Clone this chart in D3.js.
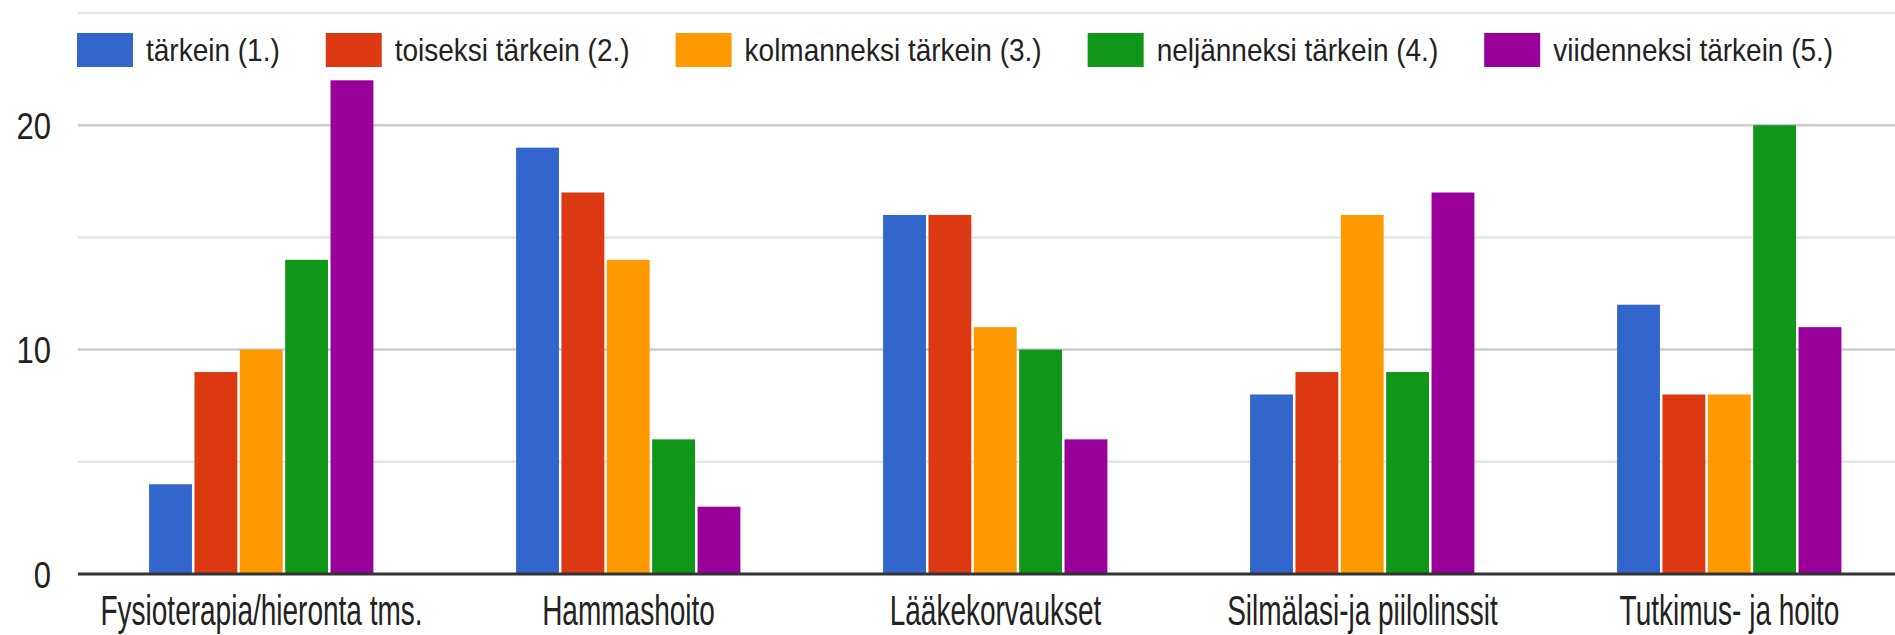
<!DOCTYPE html>
<html>
<head>
<meta charset="utf-8">
<script src="https://cdn.jsdelivr.net/npm/d3@7"></script>
<style>
  body { margin: 0; background: #fff; }
  text { font-family: "Liberation Sans", Arial, sans-serif; fill: #222; }
</style>
</head>
<body>
<script>
const categories = ["Fysioterapia/hieronta tms.", "Hammashoito", "Lääkekorvaukset", "Silmälasi-ja piilolinssit", "Tutkimus- ja hoito"];
const seriesNames = ["tärkein (1.)", "toiseksi tärkein (2.)", "kolmanneksi tärkein (3.)", "neljänneksi tärkein (4.)", "viidenneksi tärkein (5.)"];
const first = [4, 19, 16, 8, 12];
const second = [9, 17, 16, 9, 8];
const third = [10, 14, 11, 16, 8];
const fourth = [14, 6, 10, 9, 20];
const fifth = [22, 3, 6, 17, 11];
const yTicks = [0, 10, 20];
const gridTicks = [5, 10, 15, 20, 25];

const colors = ["#3366cc", "#dc3912", "#ff9900", "#109618", "#990099"];
const seriesValues = [first, second, third, fourth, fifth];

const W = 1895, H = 635;
const margin = { top: 13, bottom: 61, left: 78 };
// the plot runs past the right edge of the picture
const plotRight = 1913;

const svg = d3.select("body")
    .append("svg")
    .attr("width", W)
    .attr("height", H);

const x0 = d3.scaleBand().domain(categories).range([margin.left, plotRight]);
const groupW = x0.step() * 0.618;
const x1 = d3.scaleBand()
    .domain(d3.range(seriesNames.length))
    .range([(x0.step() - groupW) / 2, (x0.step() + groupW) / 2]);
const y = d3.scaleLinear().domain([0, 25]).range([H - margin.bottom, margin.top]);

// gridlines
svg.append("g")
    .selectAll("line")
    .data(gridTicks)
    .join("line")
    .attr("x1", margin.left)
    .attr("x2", W)
    .attr("y1", d => y(d))
    .attr("y2", d => y(d))
    .attr("stroke", d => d % 10 === 0 ? "#cccccc" : "#e6e6e6")
    .attr("stroke-width", 2.5);

// bars
const rows = [];
categories.forEach((c, ci) => {
    seriesValues.forEach((vals, si) => rows.push({ cat: c, s: si, v: vals[ci] }));
});

svg.append("g")
    .selectAll("rect")
    .data(rows)
    .join("rect")
    .attr("x", d => x0(d.cat) + x1(d.s) + 1)
    .attr("y", d => y(d.v))
    .attr("width", x1.bandwidth() - 2.5)
    .attr("height", d => y(0) - y(d.v))
    .attr("fill", d => colors[d.s]);

// baseline
svg.append("line")
    .attr("x1", margin.left)
    .attr("x2", W)
    .attr("y1", y(0))
    .attr("y2", y(0))
    .attr("stroke", "#333")
    .attr("stroke-width", 3);

// y axis
const yaxis = d3.axisLeft(y).tickValues(yTicks).tickSize(0).tickPadding(0);
const gy = svg.append("g")
    .attr("transform", `translate(${margin.left - 27},0)`)
    .call(yaxis);
gy.select(".domain").remove();
gy.selectAll(".tick text")
    .attr("x", null)
    .attr("dy", null)
    .attr("transform", "translate(0,13) scale(1,1.2)")
    .style("font-size", "31px")
    .style("font-family", "'Liberation Sans', Arial, sans-serif")
    .attr("fill", "#222");

// category labels
svg.append("g")
    .selectAll("text")
    .data(categories)
    .join("text")
    .attr("transform", d => `translate(${x0(d) + x0.bandwidth() / 2},${y(0) + 51}) scale(1,1.52)`)
    .attr("text-anchor", "middle")
    .style("font-size", "28px")
    .text(d => d);

// legend
const legend = svg.append("g").attr("transform", "translate(77,33)");
let lx = 0;
seriesNames.forEach((name, i) => {
    const item = legend.append("g").attr("transform", `translate(${lx},0)`);
    item.append("rect")
        .attr("width", 56)
        .attr("height", 34)
        .attr("fill", colors[i]);
    const t = item.append("text")
        .attr("transform", "translate(69,17) scale(1,1.15)")
        .attr("dy", "0.35em")
        .style("font-size", "28px")
        .text(name);
    lx += 69 + t.node().getComputedTextLength() + 46;
});
</script>
</body>
</html>
